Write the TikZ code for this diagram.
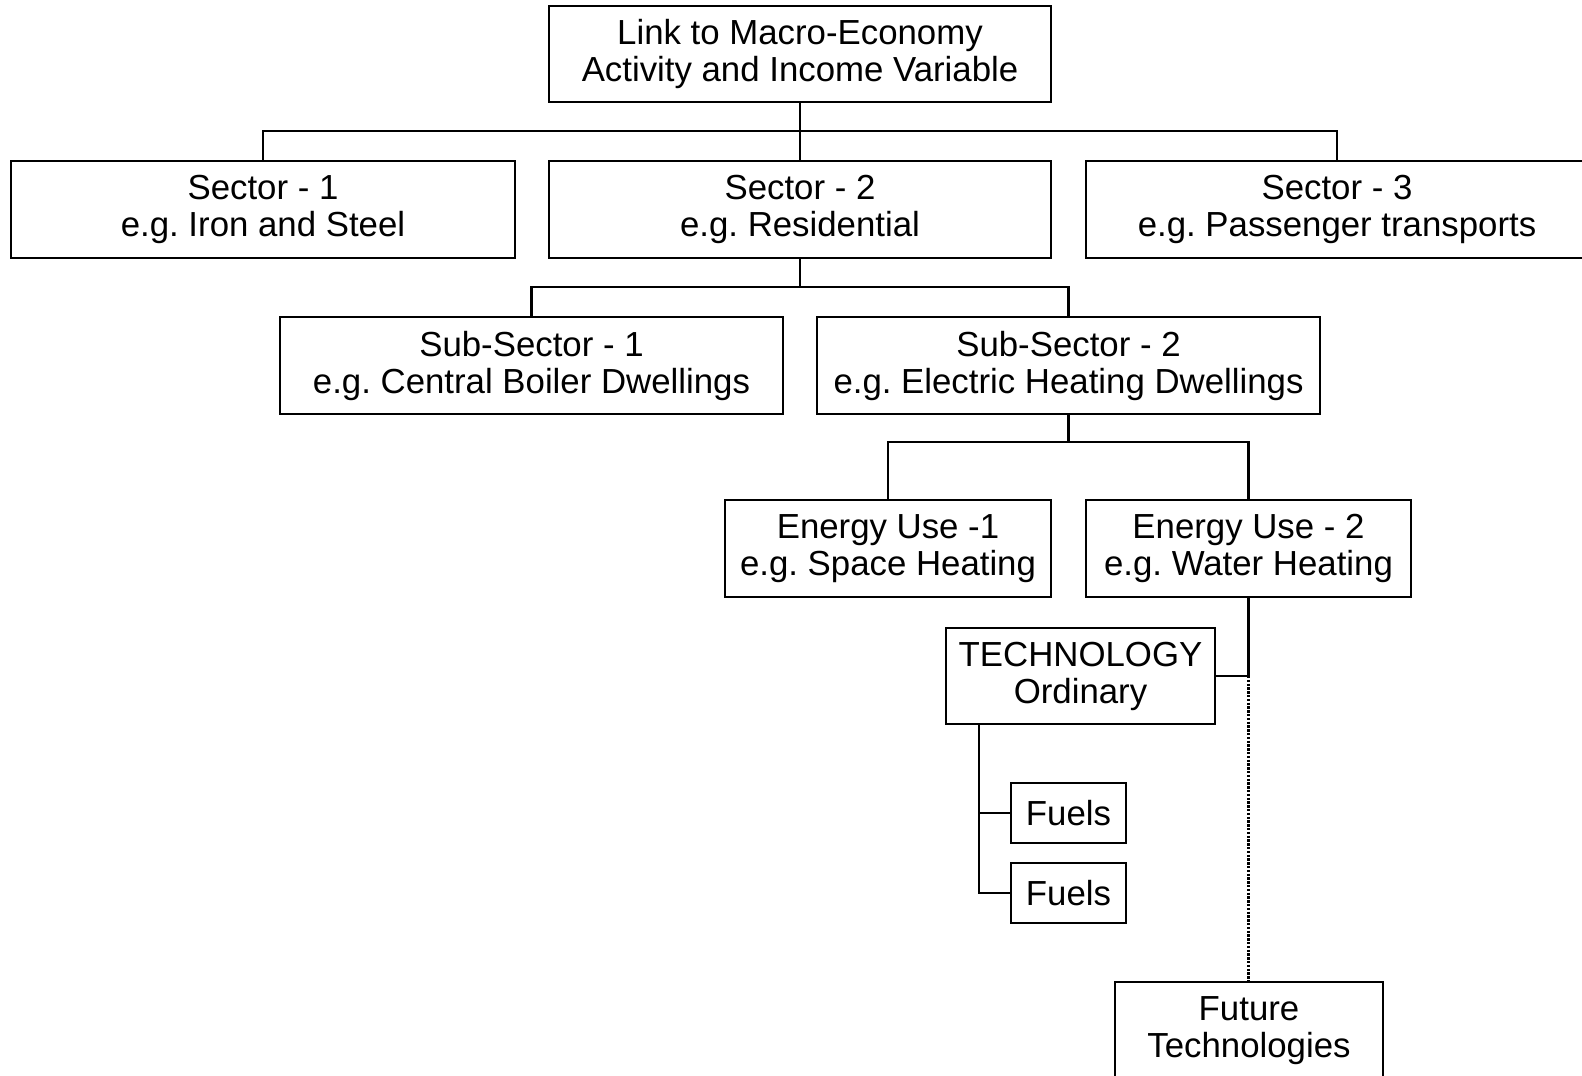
\documentclass[tikz,border=0pt]{standalone}
\usepackage{fontspec}
\setmainfont{Liberation Sans}
\frenchspacing
\begin{document}
\begin{tikzpicture}[x=1pt,y=1pt,
  box/.style={draw, line width=2.2pt, inner sep=0pt, align=center,
    font=\fontsize{34.8}{37}\selectfont},
  link/.style={line width=2.2pt},
  dotlink/.style={line width=2.4pt, dash pattern=on 2.4pt off 1.4pt}]
\useasboundingbox (0,0) rectangle (1582,-1076);
% nodes
\node[box, minimum width=502pt, minimum height=96pt] (top) at (800,-54) {Link to Macro-Economy\\Activity and Income Variable};
\node[box, minimum width=504pt, minimum height=97pt] (s1) at (263,-209.5) {Sector - 1\\e.g. Iron and Steel};
\node[box, minimum width=502pt, minimum height=97pt] (s2) at (800,-209.5) {Sector - 2\\e.g. Residential};
\node[box, minimum width=502pt, minimum height=97pt] (s3) at (1337,-209.5) {Sector - 3\\e.g. Passenger transports};
\node[box, minimum width=503pt, minimum height=97pt] (ss1) at (531.5,-365.5) {Sub-Sector - 1\\e.g. Central Boiler Dwellings};
\node[box, minimum width=503pt, minimum height=97pt] (ss2) at (1068.5,-365.5) {Sub-Sector - 2\\e.g. Electric Heating Dwellings};
\node[box, minimum width=326pt, minimum height=97pt] (eu1) at (888,-548.5) {Energy Use -1\\e.g. Space Heating};
\node[box, minimum width=325pt, minimum height=97pt] (eu2) at (1248.5,-548.5) {Energy Use - 2\\e.g. Water Heating};
\node[box, minimum width=269pt, minimum height=96pt] (tech) at (1080.5,-676) {TECHNOLOGY\\Ordinary};
\node[box, minimum width=115pt, minimum height=60pt] (f1) at (1068.5,-813) {Fuels};
\node[box, minimum width=115pt, minimum height=60pt] (f2) at (1068.5,-893) {Fuels};
\node[box, minimum width=268pt, minimum height=97pt] (fut) at (1249,-1030.5) {Future\\Technologies};
% junction coordinates
\coordinate (bus1) at (0,-131);
\coordinate (bus2) at (0,-287);
\coordinate (bus3) at (0,-442);
\coordinate (tj) at (eu2.south |- tech.east);
\coordinate (tb) at (979,-724);
% connectors
\draw[link] (top.south) -- (top.south |- bus1);
\draw[link] (s1.north) |- (top.south |- bus1) -| (s3.north);
\draw[link] (top.south |- bus1) -- (s2.north);
\draw[link] (s2.south) -- (s2.south |- bus2);
\draw[link] (ss1.north) |- (s2.south |- bus2) -| (ss2.north);
\draw[link] (ss2.south) -- (ss2.south |- bus3);
\draw[link] (eu1.north) |- (ss2.south |- bus3) -| (eu2.north);
\draw[link] (eu2.south) -- (tj) -- (tech.east);
\draw[dotlink] (tj) -- (tj |- fut.north);
\draw[link] (tb) |- (f2.west);
\draw[link] (tb |- f1.west) -- (f1.west);
\end{tikzpicture}
\end{document}
